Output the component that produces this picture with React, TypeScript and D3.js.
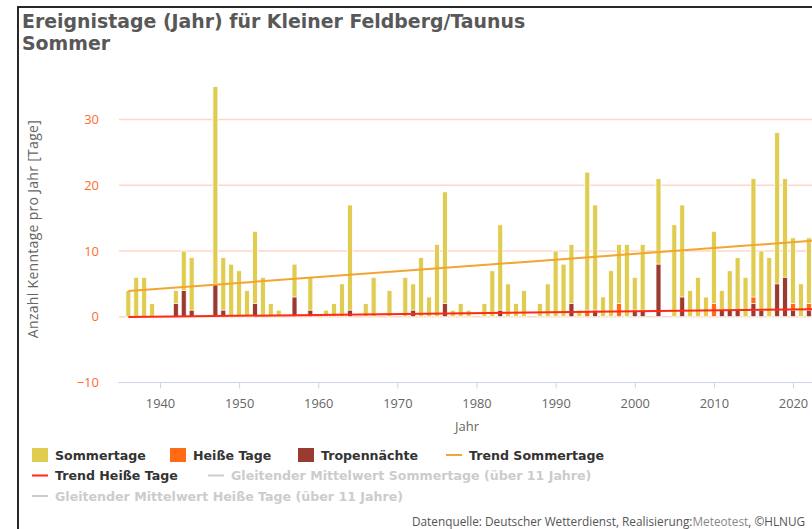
import React, { useEffect, useRef } from 'react'
import * as d3 from 'd3'

// categories: summer seasons 1936 - 2022
const years = d3.range(1936, 2023)

// Sommertage (days >= 25 °C)
const sommertage = [
  4, 6, 6, 2, 0, 0, 4, 10, 9, 0,
  0, 35, 9, 8, 7, 4, 13, 6, 2, 1,
  0, 8, 0, 6, 0, 1, 2, 5, 17, 0,
  2, 6, 0, 4, 0, 6, 5, 9, 3, 11,
  19, 1, 2, 1, 0, 2, 7, 14, 5, 2,
  4, 0, 2, 5, 10, 8, 11, 1, 22, 17,
  3, 7, 11, 11, 6, 11, 0, 21, 0, 14,
  17, 4, 6, 3, 13, 4, 7, 9, 6, 21,
  10, 9, 28, 21, 12, 5, 12,
]

// Heiße Tage (days >= 30 °C)
const heisseTage = [
  0, 0, 0, 0, 0, 0, 0, 0, 0, 0,
  0, 0, 0, 0, 0, 0, 0, 0, 0, 0,
  0, 0, 0, 0, 0, 0, 0, 0, 0, 0,
  0, 0, 0, 0, 0, 0, 0, 0, 0, 0,
  0, 0, 0, 0, 0, 0, 0, 0, 0, 0,
  0, 0, 0, 0, 0, 0, 0, 0, 1, 0,
  0, 0, 2, 0, 0, 0, 0, 0, 0, 0,
  0, 0, 0, 0, 2, 0, 0, 0, 0, 3,
  0, 0, 0, 0, 2, 0, 2,
]

// Tropennächte (nights >= 20 °C)
const tropennaechte = [
  0, 0, 0, 0, 0, 0, 2, 4, 1, 0,
  0, 5, 1, 0, 0, 0, 2, 0, 0, 0,
  0, 3, 0, 1, 0, 0, 0, 0, 1, 0,
  0, 0, 0, 0, 0, 0, 1, 0, 0, 0,
  2, 0, 0, 0, 0, 0, 0, 1, 0, 0,
  0, 0, 0, 0, 0, 0, 2, 0, 0, 1,
  0, 0, 0, 0, 1, 1, 0, 8, 0, 0,
  3, 0, 0, 0, 0, 1, 1, 1, 0, 2,
  1, 0, 5, 6, 1, 0, 1,
]

// linear trends (start / end)
const trendYears = [1936, 2023]
const trendSommertage = [3.9, 11.6]
const trendHeisseTage = [-0.05, 1.15]

const yTicks = [-10, 0, 10, 20, 30]
const xTicks = [1940, 1950, 1960, 1970, 1980, 1990, 2000, 2010, 2020]

const colors = {
  sommer: '#e0cc50',
  heiss: '#ff6a13',
  tropen: '#9a3a30',
  trendSommer: '#f2a530',
  trendHeiss: '#ff2a14',
  grid: '#fdd6c8',
  yLabel: '#ff6a2e',
}

const legendRows = [
  [
    { label: 'Sommertage', type: 'rect', color: colors.sommer, x: 32, on: true },
    { label: 'Heiße Tage', type: 'rect', color: colors.heiss, x: 170, on: true },
    { label: 'Tropennächte', type: 'rect', color: colors.tropen, x: 298, on: true },
    { label: 'Trend Sommertage', type: 'line', color: colors.trendSommer, x: 446, on: true },
  ],
  [
    { label: 'Trend Heiße Tage', type: 'line', color: colors.trendHeiss, x: 32, on: true },
    { label: 'Gleitender Mittelwert Sommertage (über 11 Jahre)', type: 'line', color: '#ccc', x: 208, on: false },
  ],
  [
    { label: 'Gleitender Mittelwert Heiße Tage (über 11 Jahre)', type: 'line', color: '#ccc', x: 32, on: false },
  ],
]

export default function App() {
  const svgRef = useRef<SVGSVGElement>(null)

  useEffect(() => {
    const w = 812
    const h = 529
    const svg = d3.select(svgRef.current)
    svg.selectAll('*').remove()

    const x = d3.scaleLinear().domain([1940, 2020]).range([160, 793])
    const y = d3.scaleLinear().domain([-10, 30]).range([382.5, 119.5])
    const left = 119
    const right = 900

    // frame
    svg.append('rect')
      .attr('x', 18).attr('y', 7)
      .attr('width', 900).attr('height', 600)
      .attr('fill', 'none')
      .attr('stroke', '#111')
      .attr('stroke-width', 1.8)

    // title
    const title = svg.append('text')
      .attr('font-family', 'DejaVu Sans')
      .attr('font-weight', 'bold')
      .attr('font-size', 18.9)
      .attr('fill', '#585858')
    title.append('tspan').attr('x', 22).attr('y', 28).text('Ereignistage (Jahr) für Kleiner Feldberg/Taunus')
    title.append('tspan').attr('x', 22).attr('y', 50).text('Sommer')

    // grid
    svg.append('g')
      .selectAll('line')
      .data(yTicks.filter(d => d > -10))
      .join('line')
      .attr('x1', left).attr('x2', right)
      .attr('y1', d => y(d)).attr('y2', d => y(d))
      .attr('stroke', colors.grid)
      .attr('stroke-width', 1.5)

    // x axis
    const xAxis = d3.axisBottom(x)
      .tickValues(xTicks)
      .tickFormat(d => String(d))
      .tickSize(6)
      .tickSizeOuter(0)
    const gx = svg.append('g')
      .attr('transform', `translate(0, ${y(-10)})`)
      .call(xAxis)
    gx.select('.domain').remove()
    gx.append('line')
      .attr('x1', left - 1).attr('x2', right)
      .attr('stroke', '#ccd6eb')
    gx.selectAll('.tick line').attr('stroke', '#ccd6eb')
    gx.selectAll('.tick text')
      .attr('fill', '#666')
      .attr('font-family', 'Open Sans')
      .attr('font-size', 12.8)
      .attr('dy', '1.25em')

    // y axis
    const yAxis = d3.axisLeft(y)
      .tickValues(yTicks)
      .tickFormat(d => (+d < 0 ? '−' + Math.abs(+d) : String(d)))
      .tickSize(0)
    const gy = svg.append('g')
      .attr('transform', `translate(${left - 17}, 0)`)
      .call(yAxis)
    gy.select('.domain').remove()
    gy.selectAll('.tick text')
      .attr('fill', colors.yLabel)
      .attr('font-family', 'Open Sans')
      .attr('font-size', 13)

    // axis titles
    svg.append('text')
      .attr('transform', `translate(38, ${229}) rotate(-90)`)
      .attr('text-anchor', 'middle')
      .attr('font-family', 'Open Sans')
      .attr('font-size', 14)
      .attr('letter-spacing', 0.3)
      .attr('fill', '#666')
      .text('Anzahl Kenntage pro Jahr [Tage]')
    svg.append('text')
      .attr('x', 467).attr('y', 431)
      .attr('text-anchor', 'middle')
      .attr('font-family', 'Open Sans')
      .attr('font-size', 13)
      .attr('fill', '#666')
      .text('Jahr')

    // columns (drawn over each other, not grouped)
    const bw = 5
    const series = [
      { values: sommertage, color: colors.sommer },
      { values: heisseTage, color: colors.heiss },
      { values: tropennaechte, color: colors.tropen },
    ]
    series.forEach(s => {
      svg.append('g')
        .selectAll('rect')
        .data(years.map((yr, i) => ({ yr, v: s.values[i] })).filter(d => d.v > 0))
        .join('rect')
        .attr('x', d => x(d.yr) - bw / 2)
        .attr('y', d => y(d.v))
        .attr('width', bw)
        .attr('height', d => y(0) - y(d.v))
        .attr('fill', s.color)
        .attr('stroke', '#fff')
        .attr('stroke-width', 0.8)
    })

    // trend lines
    const line = d3.line<number>()
      .x((d, i) => x(trendYears[i]))
      .y(d => y(d))
    ;[
      { values: trendHeisseTage, color: colors.trendHeiss },
      { values: trendSommertage, color: colors.trendSommer },
    ].forEach(t => {
      svg.append('path')
        .attr('d', line(t.values))
        .attr('fill', 'none')
        .attr('stroke', t.color)
        .attr('stroke-width', 2)
    })

    // legend
    legendRows.forEach((row, ri) => {
      const cy = 455 + ri * 20.5
      row.forEach(item => {
        const g = svg.append('g')
        if (item.type === 'rect') {
          g.append('rect')
            .attr('x', item.x).attr('y', cy - 7)
            .attr('width', 16).attr('height', 14)
            .attr('fill', item.color)
        } else {
          g.append('line')
            .attr('x1', item.x).attr('x2', item.x + 16)
            .attr('y1', cy).attr('y2', cy)
            .attr('stroke', item.color)
            .attr('stroke-width', 2)
        }
        g.append('text')
          .attr('x', item.x + 23)
          .attr('y', cy + 4.5)
          .attr('font-family', 'DejaVu Sans')
          .attr('font-weight', 'bold')
          .attr('font-size', 12.6)
          .attr('fill', item.on ? '#333' : '#cccccc')
          .text(item.label)
      })
    })

    // credits
    const credit = svg.append('text')
      .attr('x', 412).attr('y', 526)
      .attr('font-family', 'Open Sans')
      .attr('font-size', 11.8)
      .attr('fill', '#555')
    credit.append('tspan').text('Datenquelle: Deutscher Wetterdienst, Realisierung:')
    credit.append('tspan').attr('fill', '#888').text('Meteotest')
    credit.append('tspan').text(', ©HLNUG')

    svg.attr('width', w).attr('height', h)
  }, [])

  return (
    <svg
      ref={svgRef}
      style={{ position: 'absolute', left: 0, top: 0, background: '#fff' }}
    ></svg>
  )
}
